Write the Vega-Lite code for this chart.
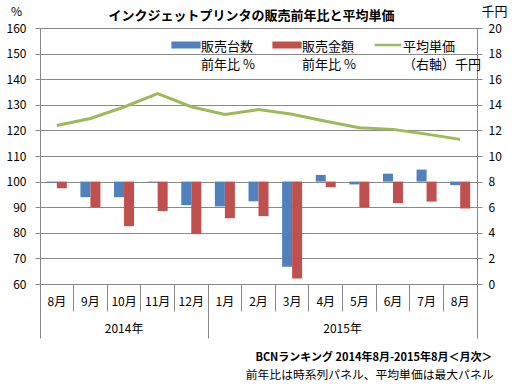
{
  "$schema": "https://vega.github.io/schema/vega-lite/v6.json",
  "autosize": "none",
  "width": 437,
  "height": 256,
  "padding": {"left": 40, "top": 28, "right": 36, "bottom": 103},
  "background": "white",
  "title": {
    "text": "インクジェットプリンタの販売前年比と平均単価",
    "font": "Noto Sans CJK JP",
    "fontSize": 13,
    "fontWeight": "bold",
    "color": "#000000",
    "anchor": "middle",
    "offset": 7,
    "dx": -7,
    "dy": 25
  },
  "data": {
    "values": [
      {"m": "2014-08", "units": 99.6, "sales": 97.4, "price": 12.39},
      {"m": "2014-09", "units": 93.9, "sales": 90.0, "price": 12.93},
      {"m": "2014-10", "units": 93.9, "sales": 82.6, "price": 13.83},
      {"m": "2014-11", "units": 99.7, "sales": 88.5, "price": 14.87},
      {"m": "2014-12", "units": 90.8, "sales": 79.5, "price": 13.85},
      {"m": "2015-01", "units": 90.3, "sales": 85.7, "price": 13.24},
      {"m": "2015-02", "units": 92.3, "sales": 86.5, "price": 13.63},
      {"m": "2015-03", "units": 66.7, "sales": 62.1, "price": 13.26},
      {"m": "2015-04", "units": 102.6, "sales": 97.8, "price": 12.72},
      {"m": "2015-05", "units": 98.9, "sales": 90.0, "price": 12.2},
      {"m": "2015-06", "units": 103.1, "sales": 91.6, "price": 12.08},
      {"m": "2015-07", "units": 104.7, "sales": 92.2, "price": 11.71},
      {"m": "2015-08", "units": 98.6, "sales": 89.5, "price": 11.3}
    ]
  },
  "layer": [
    {
      "transform": [{"fold": ["units", "sales"], "as": ["key", "value"]}],
      "mark": {"type": "bar"},
      "encoding": {
        "x": {
          "field": "m",
          "type": "ordinal",
          "scale": {"paddingInner": 0, "paddingOuter": 0},
          "axis": {
            "orient": "bottom",
            "bandPosition": 0,
            "labelExpr": "toNumber(slice(datum.value, 5)) + '月'",
            "labelBaseline": "middle",
            "labelAngle": 0,
            "labelOverlap": false,
            "tickSize": {"condition": {"test": "datum.value == '2014-08'", "value": 54}, "value": 27},
            "labelPadding": {"condition": {"test": "datum.value == '2014-08'", "value": -36.3}, "value": -9.3},
            "title": "BCNランキング 2014年8月-2015年8月＜月次＞",
            "titleFontWeight": "bold",
            "titleFontSize": 11,
            "titleX": 452,
            "titleY": 73,
            "titleAlign": "right",
            "titleBaseline": "middle",
            "titleAngle": 0
          }
        },
        "xOffset": {
          "field": "key",
          "type": "nominal",
          "sort": ["units", "sales"],
          "scale": {"domain": ["units", "sales"], "paddingInner": 0, "paddingOuter": 0.68}
        },
        "y": {
          "field": "value",
          "type": "quantitative",
          "scale": {"domain": [60, 160], "nice": false, "zero": false},
          "axis": {
            "orient": "left",
            "values": [60, 70, 80, 90, 100, 110, 120, 130, 140, 150, 160],
            "grid": true,
            "tickSize": 5,
            "labelPadding": 9,
            "title": "%",
            "titleAngle": 0,
            "titleFontWeight": "normal",
            "titleFontSize": 12,
            "titleX": -24,
            "titleY": -17,
            "titleAlign": "center",
            "titleBaseline": "middle"
          }
        },
        "y2": {"datum": 100},
        "color": {
          "field": "key",
          "type": "nominal",
          "scale": {"domain": ["units", "sales", "price"], "range": ["#4F81BD", "#C0504D", "#9BBB59"]},
          "legend": {
            "title": null,
            "orient": "none",
            "legendX": 131,
            "legendY": 2,
            "direction": "horizontal",
            "columnPadding": 13,
            "padding": 0,
            "labelOffset": 0,
            "labelFontSize": 13,
            "labelFont": "Noto Sans CJK JP",
            "labelColor": "#000000",
            "labelLimit": 200,
            "labelBaseline": "middle",
            "symbolSize": 713,
            "labelExpr": "datum.value === 'units' ? ['販売台数', '前年比 %'] : datum.value === 'sales' ? ['販売金額', '前年比 %'] : ['平均単価', '（右軸）千円']",
            "encode": {
              "symbols": {
                "update": {
                  "shape": {"signal": "datum.value === 'price' ? 'M-1,0H1' : 'M-1,-0.17H1V0.17H-1Z'"},
                  "fill": {"signal": "datum.value === 'price' ? 'transparent' : scale('color', datum.value)"},
                  "stroke": {"signal": "datum.value === 'price' ? '#9BBB59' : 'transparent'"},
                  "strokeWidth": {"value": 2.5},
                  "opacity": {"value": 1},
                  "size": {"value": 713}
                }
              },
              "labels": {
                "update": {
                  "lineHeight": {"value": 18},
                  "dy": {"value": 2}
                }
              }
            }
          }
        }
      }
    },
    {
      "mark": {"type": "line", "strokeWidth": 3, "color": "#9BBB59"},
      "encoding": {
        "x": {
          "field": "m",
          "type": "ordinal",
          "axis": {
            "orient": "bottom",
            "values": ["2014-12", "2015-08"],
            "bandPosition": 1,
            "domain": false,
            "tickSize": 54,
            "labelExpr": "datum.value == '2014-12' ? '2014年' : '2015年'",
            "labelOffset": {"condition": {"test": "datum.value == '2014-12'", "value": -67.2}, "value": -117.6},
            "labelPadding": -9.3,
            "labelBaseline": "middle",
            "labelAngle": 0,
            "labelOverlap": false,
            "title": "前年比は時系列パネル、平均単価は最大パネル",
            "titleFontWeight": "normal",
            "titleFontSize": 11.8,
            "titleX": 453,
            "titleY": 90,
            "titleAlign": "right",
            "titleBaseline": "middle",
            "titleAngle": 0
          }
        },
        "y": {
          "field": "price",
          "type": "quantitative",
          "scale": {"domain": [0, 20], "nice": false},
          "axis": {
            "orient": "right",
            "values": [0, 2, 4, 6, 8, 10, 12, 14, 16, 18, 20],
            "grid": false,
            "tickSize": 5,
            "labelPadding": 6,
            "title": "千円",
            "titleAngle": 0,
            "titleFontWeight": "normal",
            "titleFontSize": 13,
            "titleX": 17,
            "titleY": -17,
            "titleAlign": "center",
            "titleBaseline": "middle"
          }
        },
        "color": {"datum": "price", "type": "nominal"}
      }
    }
  ],
  "resolve": {"scale": {"y": "independent"}, "axis": {"x": "independent"}},
  "config": {
    "font": "Noto Sans CJK JP",
    "view": {"stroke": null},
    "axis": {
      "labelFont": "Noto Sans CJK JP",
      "labelFontSize": 12,
      "labelColor": "#000000",
      "titleFont": "Noto Sans CJK JP",
      "titleColor": "#000000",
      "domainColor": "#888888",
      "tickColor": "#888888",
      "gridColor": "#888888",
      "gridOpacity": 1
    }
  }
}
